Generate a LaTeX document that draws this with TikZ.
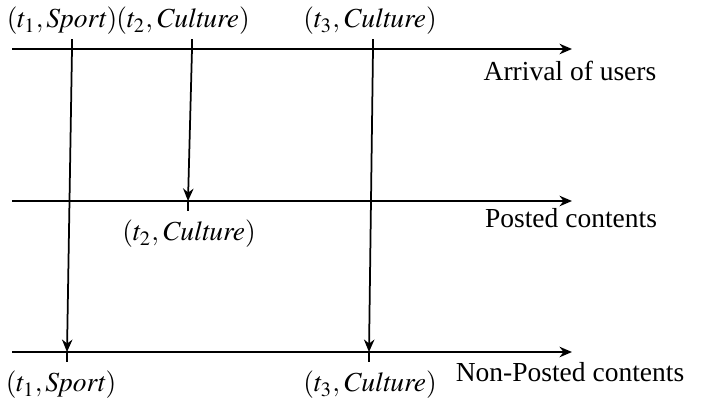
\documentclass[tikz,border=0pt]{standalone}
\usepackage{mathptmx}
\usepackage{fontspec}
\setmainfont{Liberation Serif}
\usetikzlibrary{arrows.meta}
\begin{document}
\begin{tikzpicture}[x=0.4pt,y=-0.4pt,
  axis/.style={line width=0.8pt,-{Stealth[length=5pt,width=4.2pt]}},
  link/.style={line width=0.7pt,-{Stealth[length=5pt,width=4.2pt]}},
  tick/.style={line width=0.8pt},
  lbl/.style={inner sep=0pt,font=\fontsize{11}{13}\selectfont}]
\useasboundingbox (0,0) rectangle (714,402);
% axes
\coordinate (a1) at (12,49);  \coordinate (a2) at (572,49);
\coordinate (p1) at (12,201); \coordinate (p2) at (572,201);
\coordinate (n1) at (12,352); \coordinate (n2) at (572,352);
\draw[axis] (a1) -- (a2);
\draw[axis] (p1) -- (p2);
\draw[axis] (n1) -- (n2);
% tick points
\coordinate (u1) at (72,49);  \coordinate (u1t) at (72,39);
\coordinate (u2) at (192,49); \coordinate (u2t) at (192,39);
\coordinate (u3) at (373,49); \coordinate (u3t) at (373,39);
\coordinate (c2) at (188,201); \coordinate (c2b) at (188,211);
\coordinate (s1) at (67,352);  \coordinate (s1b) at (67,362);
\coordinate (s3) at (369,352); \coordinate (s3b) at (369,362);
\draw[tick] (u1t) -- (u1);
\draw[tick] (u2t) -- (u2);
\draw[tick] (u3t) -- (u3);
\draw[tick] (c2) -- (c2b);
\draw[tick] (s1) -- (s1b);
\draw[tick] (s3) -- (s3b);
% links
\draw[link] (u1) -- (s1);
\draw[link] (u2) -- (c2);
\draw[link] (u3) -- (s3);
% labels
\node[lbl] (l1) at (62,21) {$(t_1,\mathit{Sport})$};
\node[lbl] (l2) at (183,21) {$(t_2,\mathit{Culture})$};
\node[lbl] (l3) at (370,21) {$(t_3,\mathit{Culture})$};
\node[lbl] (l4) at (189,234) {$(t_2,\mathit{Culture})$};
\node[lbl] (b1) at (61,385) {$(t_1,\mathit{Sport})$};
\node[lbl] (b3) at (370,385) {$(t_3,\mathit{Culture})$};
\node[lbl] (r1) at (570,71) {Arrival of users};
\node[lbl] (r2) at (571,218) {Posted contents};
\node[lbl] (r3) at (570,372) {Non-Posted contents};
\end{tikzpicture}
\end{document}
